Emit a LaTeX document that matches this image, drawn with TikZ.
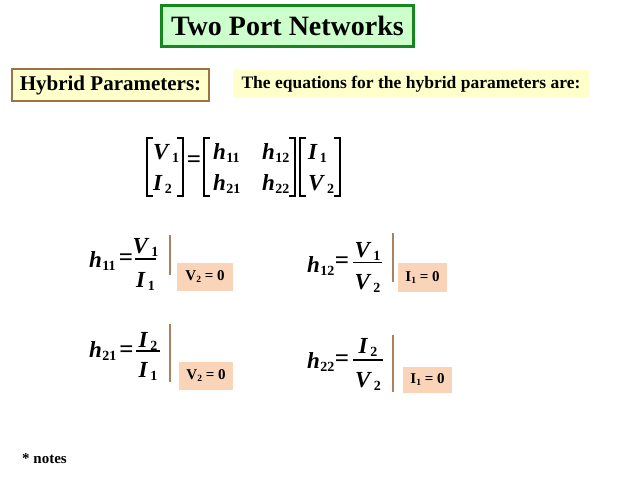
\documentclass[tikz,border=0pt]{standalone}
\usepackage{fontspec}
\setmainfont{Liberation Serif}
\definecolor{titlegreen}{RGB}{22,135,30}
\definecolor{titlefill}{RGB}{204,255,204}
\definecolor{hybborder}{RGB}{155,115,70}
\definecolor{paleyellow}{RGB}{255,255,204}
\definecolor{peach}{RGB}{250,212,185}
\definecolor{barbrown}{RGB}{170,130,95}
\newcommand\mvar[3][0.5pt]{\textbf{\textit{#2}}\kern#1\raisebox{-3pt}{\fontsize{14}{14}\selectfont\textbf{#3}}}
\newcommand\svar[2]{\textbf{#1}\raisebox{-2pt}{\fontsize{9.5}{9.5}\selectfont\textbf{#2}}}
\begin{document}
\begin{tikzpicture}[x=1pt,y=-1pt,
  big/.style={font=\fontsize{23}{23}\selectfont\bfseries, inner sep=0pt},
  eqsign/.style={font=\fontsize{25}{25}\selectfont\bfseries, inner sep=0pt},
  fracbar/.style={line width=1.2pt},
  condbar/.style={draw=barbrown, line width=2pt},
  condbox/.style={fill=peach, draw=none, font=\fontsize{15}{15}\selectfont\bfseries, inner sep=0pt},
  brack/.style={line width=1.8pt}]
\useasboundingbox (0,0) rectangle (638,479);

% title
\node[draw=titlegreen, line width=3pt, fill=titlefill, minimum width=252pt, minimum height=41pt, inner sep=0pt,
  font=\fontsize{28}{28}\selectfont\bfseries] (title) at (287.5,26) {Two Port Networks};

% hybrid parameters
\node[draw=hybborder, line width=2pt, fill=paleyellow, minimum width=197pt, minimum height=32pt, inner sep=0pt,
  font=\fontsize{21}{21}\selectfont\bfseries] (hyb) at (110.5,85) {Hybrid Parameters:};
\node[fill=paleyellow, minimum width=356pt, minimum height=28pt, inner sep=0pt,
  font=\fontsize{17.5}{17.5}\selectfont\bfseries] (eqs) at (411,84) {The equations for the hybrid parameters are:};

% matrix brackets
\draw[brack] (153,138) -- (147,138) -- (147,196) -- (153,196);
\draw[brack] (177,138) -- (183,138) -- (183,196) -- (177,196);
\draw[brack] (210,138) -- (204,138) -- (204,196) -- (210,196);
\draw[brack] (289,138) -- (295,138) -- (295,196) -- (289,196);
\draw[brack] (306,138) -- (300,138) -- (300,196) -- (306,196);
\draw[brack] (334,138) -- (340,138) -- (340,196) -- (334,196);
\node[big, anchor=base west] (mv1) at (153,159) {\mvar[2pt]{V}{1}};
\node[big, anchor=base west] (mi2) at (153,190) {\mvar[2pt]{I}{2}};
\node[eqsign] (meq) at (194,162) {=};
\node[big, anchor=base west] (mh11) at (213,159) {\mvar{h}{11}};
\node[big, anchor=base west] (mh12) at (262,159) {\mvar{h}{12}};
\node[big, anchor=base west] (mh21) at (213,190) {\mvar{h}{21}};
\node[big, anchor=base west] (mh22) at (262,190) {\mvar{h}{22}};
\node[big, anchor=base west] (mi1) at (308,159) {\mvar[2pt]{I}{1}};
\node[big, anchor=base west] (mv2) at (308,190) {\mvar[2pt]{V}{2}};

% h11
\node[big, anchor=base west] (h11) at (89,267) {\mvar{h}{11}};
\node[eqsign] (e11) at (126,259.5) {=};
\draw[fracbar] (135,259) -- (156,259);
\node[big, anchor=base] (n11) at (145.5,253) {\mvar[2pt]{V}{1}};
\node[big, anchor=base] (d11) at (145.5,287) {\mvar[2pt]{I}{1}};
\draw[condbar] (170,235) -- (170,275);
\node[condbox, minimum width=56pt, minimum height=28pt] (c11) at (205,277) {\svar{V}{2} = 0};

% h12
\node[big, anchor=base west] (h12) at (307,272) {\mvar{h}{12}};
\node[eqsign] (e12) at (342,263) {=};
\draw[fracbar] (353,262.5) -- (382,262.5);
\node[big, anchor=base] (n12) at (367.5,257) {\mvar[2pt]{V}{1}};
\node[big, anchor=base] (d12) at (367.5,289) {\mvar[2pt]{V}{2}};
\draw[condbar] (393,233) -- (393,282);
\node[condbox, minimum width=49pt, minimum height=29pt] (c12) at (422.5,277.5) {\svar{I}{1} = 0};

% h21
\node[big, anchor=base west] (h21) at (89,357) {\mvar{h}{21}};
\node[eqsign] (e21) at (126.5,351.5) {=};
\draw[fracbar] (136,351) -- (160,351);
\node[big, anchor=base] (n21) at (148,347) {\mvar[2pt]{I}{2}};
\node[big, anchor=base] (d21) at (148,377) {\mvar[2pt]{I}{1}};
\draw[condbar] (170,324) -- (170,382);
\node[condbox, minimum width=54pt, minimum height=28pt] (c21) at (206,376) {\svar{V}{2} = 0};

% h22
\node[big, anchor=base west] (h22) at (307,368) {\mvar{h}{22}};
\node[eqsign] (e22) at (342,360.5) {=};
\draw[fracbar] (353,360) -- (383,360);
\node[big, anchor=base] (n22) at (368,353) {\mvar[2pt]{I}{2}};
\node[big, anchor=base] (d22) at (368,387) {\mvar[2pt]{V}{2}};
\draw[condbar] (393,335) -- (393,392);
\node[condbox, minimum width=49pt, minimum height=26pt] (c22) at (427.5,380) {\svar{I}{1} = 0};

% notes
\node[anchor=base west, inner sep=0pt, font=\fontsize{15}{15}\selectfont\bfseries] (notes) at (22,463) {* notes};
\end{tikzpicture}
\end{document}
